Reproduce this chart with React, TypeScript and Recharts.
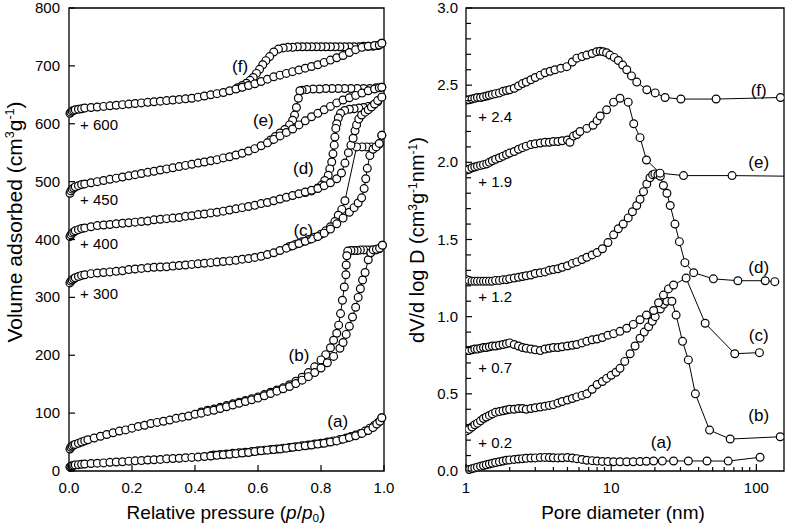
import React from 'react';
import { ScatterChart, Scatter, XAxis, YAxis, ReferenceArea, ReferenceDot } from 'recharts';

type Pt = [number, number];

// ─── N2 isotherms: [p/p0, V (cm3/g)] before the vertical shift ─────────────
const isoAdsA: Pt[] = [
  [0.003, 7], [0.006, 8], [0.01, 9], [0.015, 10], [0.02, 10.5], [0.03, 11], [0.04, 11.5], [0.05, 12],
  [0.07, 13], [0.09, 13.5], [0.11, 14], [0.13, 15], [0.15, 15.5], [0.17, 16], [0.19, 17], [0.21, 17.5],
  [0.23, 18], [0.25, 19], [0.27, 19.5], [0.29, 20], [0.31, 21], [0.33, 21.5], [0.35, 22], [0.37, 23],
  [0.39, 23.5], [0.41, 24], [0.43, 25], [0.45, 26], [0.47, 27], [0.49, 28], [0.51, 29], [0.53, 30],
  [0.55, 31], [0.57, 32], [0.59, 33.5], [0.61, 35], [0.63, 36], [0.65, 37], [0.67, 38], [0.69, 39.5],
  [0.71, 41], [0.73, 42], [0.75, 43.5], [0.77, 45], [0.79, 46.5], [0.81, 48], [0.83, 50], [0.85, 52],
  [0.87, 55], [0.89, 58], [0.91, 61], [0.93, 65], [0.95, 70], [0.965, 75], [0.977, 81], [0.987, 86], [0.993, 92],
];
const isoDesA: Pt[] = [
  [0.993, 92], [0.982, 84], [0.97, 79], [0.955, 74], [0.94, 69], [0.925, 65], [0.91, 62], [0.895, 59.5],
  [0.88, 57], [0.86, 54.5], [0.84, 52], [0.82, 50], [0.8, 48], [0.78, 46.5], [0.76, 45], [0.74, 43.5],
  [0.72, 42], [0.7, 40.5], [0.68, 39.5], [0.66, 38], [0.64, 37], [0.62, 36], [0.6, 35], [0.58, 33.5],
  [0.56, 32.5], [0.54, 31.5], [0.52, 30.5], [0.5, 29.5], [0.48, 28.5], [0.46, 27.5], [0.45, 26.5],
];
const isoAdsB: Pt[] = [
  [0.003, 38], [0.006, 41], [0.01, 43], [0.015, 45], [0.02, 46], [0.03, 48], [0.04, 50], [0.05, 52],
  [0.06, 54], [0.08, 57], [0.1, 60], [0.12, 63], [0.14, 66], [0.16, 69], [0.18, 71], [0.2, 74],
  [0.22, 77], [0.24, 79], [0.26, 82], [0.28, 84], [0.3, 86], [0.32, 88], [0.34, 91], [0.36, 93],
  [0.38, 95], [0.4, 98], [0.42, 100], [0.44, 103], [0.46, 105], [0.48, 108], [0.5, 111], [0.52, 114],
  [0.54, 117], [0.56, 120], [0.58, 123], [0.6, 126], [0.62, 130], [0.64, 134], [0.66, 138], [0.68, 142],
  [0.7, 146], [0.72, 151], [0.74, 157], [0.76, 163], [0.78, 170], [0.8, 178], [0.82, 187], [0.84, 198],
  [0.86, 212], [0.87, 222], [0.88, 236], [0.89, 250], [0.9, 266], [0.91, 283], [0.918, 300], [0.925, 315],
  [0.932, 330], [0.94, 343], [0.95, 365], [0.958, 377], [0.966, 382], [0.976, 383], [0.986, 385], [0.995, 390],
];
const isoDesB: Pt[] = [
  [0.995, 390], [0.985, 384], [0.975, 382], [0.965, 382], [0.955, 382], [0.945, 382], [0.935, 382],
  [0.925, 382], [0.915, 381], [0.905, 381], [0.895, 381], [0.885, 380], [0.882, 372], [0.88, 356],
  [0.879, 339], [0.874, 318], [0.868, 295], [0.862, 272], [0.856, 252], [0.85, 238], [0.84, 226],
  [0.83, 213], [0.815, 201], [0.8, 192], [0.78, 180], [0.76, 170], [0.74, 162], [0.72, 155], [0.7, 149],
  [0.68, 144], [0.66, 140], [0.64, 136], [0.62, 132], [0.6, 128], [0.58, 125], [0.56, 122], [0.54, 119],
  [0.52, 116], [0.5, 113], [0.48, 110], [0.46, 107], [0.44, 105], [0.42, 102],
];
const isoAdsC: Pt[] = [
  [0.003, 25], [0.006, 28], [0.01, 30], [0.015, 32], [0.02, 34], [0.03, 36], [0.04, 38], [0.05, 39],
  [0.07, 41], [0.09, 42], [0.11, 43], [0.13, 44], [0.15, 45], [0.17, 46], [0.19, 48], [0.21, 49],
  [0.23, 50], [0.25, 51], [0.27, 52], [0.29, 52.5], [0.31, 53], [0.33, 54], [0.35, 55], [0.37, 56],
  [0.39, 57], [0.41, 58], [0.43, 59], [0.45, 60], [0.47, 61], [0.49, 62], [0.51, 63], [0.53, 64],
  [0.55, 66], [0.57, 67], [0.59, 69], [0.61, 71], [0.63, 74], [0.65, 77], [0.67, 81], [0.69, 85],
  [0.71, 89], [0.73, 93], [0.75, 97], [0.77, 101], [0.79, 105], [0.81, 111], [0.83, 118], [0.85, 127],
  [0.87, 137], [0.89, 147], [0.905, 155], [0.918, 163], [0.929, 172], [0.937, 188], [0.942, 205],
  [0.947, 223], [0.955, 245], [0.965, 256], [0.975, 260], [0.985, 266], [0.993, 280],
];
const isoDesC: Pt[] = [
  [0.993, 280], [0.985, 265], [0.975, 260], [0.96, 260], [0.945, 260], [0.93, 260], [0.913, 260],
  [0.876, 167], [0.866, 152], [0.855, 142], [0.844, 131], [0.83, 122], [0.815, 115], [0.8, 109],
  [0.78, 104], [0.76, 100], [0.74, 96], [0.72, 92], [0.7, 88],
];
const isoAdsD: Pt[] = [
  [0.003, 5], [0.006, 8], [0.01, 11], [0.015, 13], [0.02, 15], [0.03, 17], [0.04, 19], [0.05, 20],
  [0.07, 22], [0.09, 24], [0.11, 25], [0.13, 26], [0.15, 27], [0.17, 28], [0.19, 29], [0.21, 30],
  [0.23, 31], [0.25, 32], [0.27, 34], [0.29, 35], [0.31, 36], [0.33, 37], [0.35, 38], [0.37, 40],
  [0.39, 41], [0.41, 43], [0.43, 44], [0.45, 46], [0.47, 47], [0.49, 49], [0.51, 51], [0.53, 53],
  [0.55, 55], [0.57, 57], [0.59, 59], [0.61, 62], [0.63, 64], [0.65, 67], [0.67, 70], [0.69, 73],
  [0.71, 76], [0.73, 79], [0.75, 82], [0.77, 85], [0.79, 88], [0.81, 93], [0.83, 98], [0.85, 105],
  [0.865, 115], [0.876, 132], [0.887, 150], [0.895, 163], [0.902, 175], [0.908, 188], [0.913, 198],
  [0.92, 208], [0.929, 215], [0.94, 220], [0.95, 224], [0.96, 229], [0.97, 234], [0.98, 240], [0.993, 246],
];
const isoDesD: Pt[] = [
  [0.993, 246], [0.98, 238], [0.965, 232], [0.95, 230], [0.935, 228], [0.92, 227], [0.905, 226],
  [0.89, 225], [0.875, 223], [0.862, 218], [0.855, 210], [0.85, 200], [0.847, 192], [0.844, 177],
  [0.842, 163], [0.838, 148], [0.834, 134], [0.828, 122], [0.823, 111], [0.812, 102], [0.802, 94],
  [0.79, 89], [0.77, 84], [0.75, 81],
];
const isoAdsE: Pt[] = [
  [0.003, 30], [0.006, 34], [0.01, 37], [0.015, 39], [0.02, 41], [0.03, 43], [0.04, 45], [0.05, 46],
  [0.07, 48], [0.09, 50], [0.11, 52], [0.13, 54], [0.15, 56], [0.17, 58], [0.19, 60], [0.21, 62],
  [0.23, 64], [0.25, 66], [0.27, 68], [0.29, 70], [0.31, 72], [0.33, 74], [0.35, 76], [0.37, 78],
  [0.39, 80], [0.41, 82], [0.43, 84], [0.45, 86], [0.47, 88], [0.49, 91], [0.51, 93], [0.53, 96],
  [0.55, 99], [0.57, 103], [0.59, 107], [0.61, 112], [0.63, 117], [0.65, 123], [0.67, 129], [0.69, 135],
  [0.71, 141], [0.73, 148], [0.75, 155], [0.77, 162], [0.79, 168], [0.81, 174], [0.83, 180], [0.85, 186],
  [0.87, 191], [0.89, 195], [0.91, 199], [0.93, 203], [0.95, 207], [0.97, 210], [0.985, 212], [0.993, 213],
];
const isoDesE: Pt[] = [
  [0.993, 213], [0.975, 212], [0.955, 211], [0.935, 211], [0.915, 211], [0.895, 211], [0.875, 211],
  [0.855, 211], [0.835, 211], [0.815, 211], [0.795, 210], [0.775, 210], [0.755, 209], [0.74, 208],
  [0.733, 207], [0.728, 194], [0.722, 178], [0.716, 165], [0.71, 156], [0.7, 148], [0.685, 140],
  [0.67, 134], [0.655, 128], [0.64, 122],
];
const isoAdsF: Pt[] = [
  [0.003, 18], [0.006, 20], [0.01, 22], [0.015, 23], [0.02, 24], [0.03, 25], [0.04, 26], [0.05, 27],
  [0.07, 28], [0.09, 29], [0.11, 30], [0.13, 31], [0.15, 32], [0.17, 33], [0.19, 34], [0.21, 35],
  [0.23, 36], [0.25, 37], [0.27, 38], [0.29, 39], [0.31, 40], [0.33, 41], [0.35, 42], [0.37, 43],
  [0.39, 44], [0.41, 46], [0.43, 48], [0.45, 50], [0.47, 52], [0.49, 54], [0.51, 57], [0.53, 60],
  [0.55, 63], [0.57, 66], [0.59, 69], [0.61, 73], [0.63, 77], [0.65, 81], [0.67, 84], [0.69, 87],
  [0.71, 90], [0.73, 93], [0.75, 96], [0.77, 99], [0.79, 102], [0.81, 106], [0.83, 110], [0.85, 114],
  [0.87, 118], [0.89, 123], [0.91, 128], [0.93, 132], [0.95, 134], [0.97, 135], [0.985, 136], [0.993, 139],
];
const isoDesF: Pt[] = [
  [0.993, 139], [0.98, 135], [0.965, 134], [0.95, 134], [0.935, 134], [0.92, 133], [0.905, 133],
  [0.89, 133], [0.875, 133], [0.86, 133], [0.845, 133], [0.83, 133], [0.815, 133], [0.8, 133],
  [0.785, 133], [0.77, 133], [0.755, 133], [0.74, 133], [0.725, 133], [0.71, 132], [0.695, 132],
  [0.68, 131], [0.665, 129], [0.65, 124], [0.637, 116], [0.625, 109], [0.615, 102], [0.605, 94],
  [0.595, 87], [0.585, 80], [0.575, 75], [0.563, 70], [0.55, 66], [0.535, 62],
];
const isoShift = [0, 0, 300, 400, 450, 600];

// ─── Pore size distributions: [D (nm), dV/dlogD] before the shift ─────────
const psdA: Pt[] = [
  [1.05, 0.01], [1.1, 0.015], [1.15, 0.02], [1.2, 0.025], [1.26, 0.03], [1.32, 0.035], [1.38, 0.04],
  [1.45, 0.045], [1.52, 0.05], [1.6, 0.055], [1.7, 0.06], [1.8, 0.065], [1.9, 0.07], [2.0, 0.072],
  [2.15, 0.075], [2.3, 0.078], [2.45, 0.08], [2.6, 0.082], [2.8, 0.084], [3.0, 0.085], [3.25, 0.087],
  [3.5, 0.088], [3.75, 0.087], [4.0, 0.086], [4.3, 0.085], [4.6, 0.086], [5.0, 0.087], [5.4, 0.084],
  [5.8, 0.08], [6.3, 0.075], [6.8, 0.07], [7.4, 0.067], [8.0, 0.064], [8.7, 0.062], [9.5, 0.061],
  [10.4, 0.06], [11.5, 0.06], [12.8, 0.06], [14.2, 0.06], [15.8, 0.061], [17.5, 0.063], [19.6, 0.065],
  [22.5, 0.064], [26.9, 0.065], [34, 0.065], [45.7, 0.065], [64, 0.064], [106, 0.089],
];
const psdB: Pt[] = [
  [1.01, 0.06], [1.05, 0.07], [1.1, 0.085], [1.15, 0.1], [1.2, 0.11], [1.26, 0.125], [1.32, 0.14],
  [1.38, 0.15], [1.45, 0.16], [1.52, 0.17], [1.6, 0.18], [1.7, 0.185], [1.8, 0.19], [1.9, 0.195],
  [2.0, 0.2], [2.15, 0.2], [2.3, 0.205], [2.45, 0.205], [2.6, 0.2], [2.8, 0.205], [3.0, 0.21],
  [3.25, 0.215], [3.5, 0.22], [3.75, 0.225], [4.0, 0.23], [4.3, 0.24], [4.6, 0.25], [5.0, 0.26],
  [5.4, 0.27], [5.8, 0.28], [6.3, 0.29], [6.8, 0.3], [7.4, 0.33], [8.0, 0.36], [8.7, 0.38], [9.3, 0.4],
  [10.0, 0.42], [10.8, 0.44], [11.5, 0.465], [12.4, 0.51], [13.5, 0.56], [14.6, 0.61], [15.8, 0.66],
  [16.9, 0.7], [18.1, 0.735], [19.2, 0.77], [20.1, 0.8], [21.8, 0.85], [23.0, 0.88], [24.2, 0.9],
  [26.2, 0.9], [28, 0.81], [31, 0.64], [34, 0.52], [38, 0.3], [47.6, 0.065], [66, 0.007], [146, 0.022],
];
const psdC: Pt[] = [
  [1.01, 0.08], [1.05, 0.08], [1.1, 0.085], [1.15, 0.09], [1.2, 0.09], [1.26, 0.095], [1.32, 0.1],
  [1.38, 0.1], [1.45, 0.105], [1.52, 0.11], [1.6, 0.11], [1.7, 0.115], [1.8, 0.12], [1.9, 0.125],
  [2.0, 0.13], [2.15, 0.12], [2.3, 0.11], [2.45, 0.1], [2.6, 0.095], [2.8, 0.09], [3.0, 0.085],
  [3.25, 0.08], [3.5, 0.09], [3.75, 0.095], [4.0, 0.1], [4.3, 0.1], [4.6, 0.105], [5.0, 0.11],
  [5.4, 0.115], [5.8, 0.12], [6.3, 0.13], [6.8, 0.14], [7.4, 0.15], [8.0, 0.155], [8.7, 0.165],
  [9.5, 0.18], [10.4, 0.19], [11.5, 0.205], [12.8, 0.225], [14.2, 0.25], [15.8, 0.28], [17.5, 0.31],
  [19.6, 0.34], [21.2, 0.39], [22.9, 0.44], [24.8, 0.48], [26.9, 0.505], [32.8, 0.55], [44.4, 0.257],
  [71, 0.06], [105, 0.067],
];
const psdD: Pt[] = [
  [1.01, 0.04], [1.05, 0.035], [1.1, 0.03], [1.15, 0.03], [1.2, 0.03], [1.26, 0.03], [1.32, 0.03],
  [1.38, 0.03], [1.45, 0.03], [1.52, 0.03], [1.6, 0.035], [1.7, 0.035], [1.8, 0.04], [1.9, 0.04],
  [2.0, 0.045], [2.15, 0.05], [2.3, 0.055], [2.45, 0.06], [2.6, 0.065], [2.8, 0.07], [3.0, 0.08],
  [3.25, 0.085], [3.5, 0.09], [3.75, 0.1], [4.0, 0.105], [4.3, 0.11], [4.6, 0.12], [5.0, 0.13],
  [5.4, 0.145], [5.8, 0.155], [6.3, 0.17], [6.8, 0.185], [7.4, 0.2], [8.0, 0.215], [8.7, 0.24],
  [9.5, 0.28], [10.4, 0.33], [11.2, 0.37], [12.1, 0.4], [13.1, 0.44], [14.0, 0.48], [15.0, 0.52],
  [15.8, 0.56], [16.7, 0.61], [17.6, 0.66], [18.5, 0.7], [19.3, 0.72], [20.0, 0.725], [21.0, 0.72],
  [21.8, 0.71], [22.9, 0.65], [24.2, 0.6], [25.5, 0.52], [27.5, 0.4], [29.5, 0.286], [32.2, 0.15],
  [37, 0.085], [50.6, 0.045], [74.6, 0.033], [115, 0.033], [134, 0.027],
];
const psdE: Pt[] = [
  [1.01, 0.05], [1.05, 0.055], [1.1, 0.065], [1.15, 0.07], [1.2, 0.075], [1.26, 0.08], [1.32, 0.085],
  [1.39, 0.09], [1.45, 0.1], [1.52, 0.11], [1.6, 0.12], [1.7, 0.13], [1.8, 0.14], [1.9, 0.15],
  [2.0, 0.16], [2.15, 0.17], [2.3, 0.185], [2.45, 0.195], [2.6, 0.205], [2.8, 0.215], [3.0, 0.22],
  [3.25, 0.225], [3.5, 0.23], [3.75, 0.23], [4.0, 0.235], [4.3, 0.235], [4.6, 0.24], [5.0, 0.245],
  [5.2, 0.23], [5.5, 0.27], [5.8, 0.28], [6.1, 0.3], [6.8, 0.32], [7.5, 0.34], [8.0, 0.37], [8.4, 0.4],
  [9.3, 0.44], [10.4, 0.49], [11.5, 0.515], [13.1, 0.49], [14.3, 0.35], [15.8, 0.26], [17.5, 0.115],
  [21.7, 0.03], [31.5, 0.014], [68, 0.014], [170, 0.01],
];
const psdF: Pt[] = [
  [1.01, 0.004], [1.05, 0.005], [1.1, 0.01], [1.15, 0.015], [1.2, 0.02], [1.26, 0.02], [1.32, 0.025],
  [1.39, 0.03], [1.45, 0.035], [1.52, 0.04], [1.6, 0.045], [1.7, 0.05], [1.8, 0.06], [1.9, 0.065],
  [2.0, 0.07], [2.15, 0.08], [2.3, 0.095], [2.45, 0.11], [2.6, 0.12], [2.8, 0.135], [3.0, 0.15],
  [3.25, 0.165], [3.5, 0.18], [3.8, 0.19], [4.1, 0.2], [4.5, 0.21], [4.95, 0.22], [5.4, 0.25],
  [5.8, 0.275], [6.3, 0.285], [6.8, 0.295], [7.4, 0.305], [7.95, 0.317], [8.4, 0.32], [8.8, 0.317],
  [9.3, 0.31], [9.8, 0.295], [10.5, 0.28], [11.2, 0.26], [12, 0.23], [12.8, 0.2], [13.8, 0.16],
  [15, 0.12], [17.6, 0.07], [20.1, 0.05], [23.5, 0.02], [30.2, 0.01], [52.8, 0.01], [146.6, 0.02],
];
const psdShift = [0, 0.2, 0.7, 1.2, 1.9, 2.4];

const sampleNames = ['(a)', '(b)', '(c)', '(d)', '(e)', '(f)'];

// ─── Axis ticks ──────────────────────────────────────────────────────────
const isoXTicks = [0, 0.2, 0.4, 0.6, 0.8, 1];
const isoYTicks = [0, 100, 200, 300, 400, 500, 600, 700, 800];
const psdXTicks = [1, 2, 3, 4, 5, 6, 7, 8, 9, 10, 20, 30, 40, 50, 60, 70, 80, 90, 100];
const psdXLabels = [1, 10, 100];
const psdYTicks = [
  0, 0.1, 0.2, 0.3, 0.4, 0.5, 0.6, 0.7, 0.8, 0.9, 1, 1.1, 1.2, 1.3, 1.4, 1.5,
  1.6, 1.7, 1.8, 1.9, 2, 2.1, 2.2, 2.3, 2.4, 2.5, 2.6, 2.7, 2.8, 2.9, 3,
];
const psdYLabels = [0, 0.5, 1, 1.5, 2, 2.5, 3];

// ─── Label positions (data coordinates) ──────────────────────────────────
const isoNamePos: Pt[] = [[0.853, 86], [0.73, 201], [0.744, 416], [0.744, 523], [0.617, 606], [0.543, 699]];
const isoShiftPos: Pt[] = [[0.035, 307], [0.035, 393], [0.035, 469], [0.035, 598]];
const isoShiftText = ['+ 300', '+ 400', '+ 450', '+ 600'];
const psdNamePos: Pt[] = [[22.1, 0.19], [103.7, 0.363], [103.7, 0.881], [103.7, 1.324], [103.7, 2.005], [103.7, 2.469]];
const psdShiftPos: Pt[] = [[1.216, 0.183], [1.216, 0.672], [1.216, 1.13], [1.216, 1.875], [1.216, 2.296]];
const psdShiftText = ['+ 0.2', '+ 0.7', '+ 1.2', '+ 1.9', '+ 2.4'];

const isoSets = [
  { ads: isoAdsA, des: isoDesA }, { ads: isoAdsB, des: isoDesB }, { ads: isoAdsC, des: isoDesC },
  { ads: isoAdsD, des: isoDesD }, { ads: isoAdsE, des: isoDesE }, { ads: isoAdsF, des: isoDesF },
];
const psdSets = [psdA, psdB, psdC, psdD, psdE, psdF];

const FONT = '"Liberation Sans", Arial, Helvetica, sans-serif';
const TICK_FONT = 15;
const LABEL_FONT = 17;
const SHIFT_FONT = 15;
const AXIS_W = 40;
const AXIS_H = 30;

const shifted = (arr: Pt[], s: number) => arr.map(([x, y]) => ({ x, y: y + s }));

const Ring = (props: any) => {
  const { cx, cy } = props;
  if (cx == null || cy == null) return <g />;
  return <circle cx={cx} cy={cy} r={3.9} fill="#fff" stroke="#000" strokeWidth={1.2} />;
};

// ticks drawn inward, labels outside
const bottomTick = (labelled: number[] | null, fmt: (v: number) => string, major: number, minor: number) =>
  (props: any) => {
    const { x, y, payload } = props;
    const v = payload.value;
    const has = labelled ? labelled.includes(v) : true;
    return (
      <g>
        <line x1={x} x2={x} y1={y} y2={y - (has ? major : minor)} stroke="#000" strokeWidth={1.2} />
        {has && (
          <text x={x} y={y + 22} textAnchor="middle" fontSize={TICK_FONT} fill="#000">{fmt(v)}</text>
        )}
      </g>
    );
  };

const leftTick = (labelled: number[] | null, fmt: (v: number) => string, major: number, minor: number, gap: number) =>
  (props: any) => {
    const { x, y, payload } = props;
    const v = payload.value;
    const has = labelled ? labelled.includes(v) : true;
    return (
      <g>
        <line x1={x} x2={x + (has ? major : minor)} y1={y} y2={y} stroke="#000" strokeWidth={1.2} />
        {has && (
          <text x={x - gap} y={y + 5} textAnchor="end" fontSize={TICK_FONT} fill="#000">{fmt(v)}</text>
        )}
      </g>
    );
  };

const labelStyle = (size: number) => ({ fontSize: size, fill: '#000', fontFamily: FONT });

const IsothermPanel = () => (
  <ScatterChart width={400} height={529} margin={{ top: 8, right: 16, bottom: 58 - AXIS_H, left: 69 - AXIS_W }}>
    <XAxis
      type="number" dataKey="x" domain={[0, 1]} ticks={isoXTicks} interval={0}
      height={AXIS_H} tickSize={0} tickMargin={0} axisLine={false}
      tick={bottomTick(null, (v) => v.toFixed(1), 6, 6)}
    />
    <YAxis
      type="number" dataKey="y" domain={[0, 800]} ticks={isoYTicks} interval={0}
      width={AXIS_W} tickSize={0} tickMargin={0} axisLine={false}
      tick={leftTick(null, (v) => String(v), 6, 6, 9)}
    />
    <ReferenceArea x1={0} x2={1} y1={0} y2={800} fill="none" fillOpacity={0} stroke="#000" strokeWidth={1.3} />
    {isoSets.map((s, i) => [
      <Scatter
        key={`des${i}`} data={shifted(s.des, isoShift[i])} line={{ stroke: '#000', strokeWidth: 1 }}
        lineType="joint" shape={Ring} isAnimationActive={false}
      />,
      <Scatter
        key={`ads${i}`} data={shifted(s.ads, isoShift[i])} line={{ stroke: '#000', strokeWidth: 1 }}
        lineType="joint" shape={Ring} isAnimationActive={false}
      />,
    ])}
    {isoNamePos.map(([x, y], i) => (
      <ReferenceDot key={`in${i}`} x={x} y={y} r={0} fill="none" stroke="none"
        label={{ value: sampleNames[i], position: 'center', ...labelStyle(LABEL_FONT) }} />
    ))}
    {isoShiftPos.map(([x, y], i) => (
      <ReferenceDot key={`is${i}`} x={x} y={y} r={0} fill="none" stroke="none"
        label={{ value: isoShiftText[i], position: 'right', offset: 0, ...labelStyle(SHIFT_FONT) }} />
    ))}
  </ScatterChart>
);

const PsdPanel = () => (
  <ScatterChart width={387} height={529} margin={{ top: 8, right: 3, bottom: 58 - AXIS_H, left: 66 - AXIS_W }}>
    <XAxis
      type="number" dataKey="x" scale="log" domain={[1, 155]} allowDataOverflow ticks={psdXTicks} interval={0}
      height={AXIS_H} tickSize={0} tickMargin={0} axisLine={false}
      tick={bottomTick(psdXLabels, (v) => String(v), 7, 4)}
    />
    <YAxis
      type="number" dataKey="y" domain={[0, 3]} ticks={psdYTicks} interval={0}
      width={AXIS_W} tickSize={0} tickMargin={0} axisLine={false}
      tick={leftTick(psdYLabels, (v) => v.toFixed(1), 6, 5, 8)}
    />
    <ReferenceArea x1={1} x2={155} y1={0} y2={3} fill="none" fillOpacity={0} stroke="#000" strokeWidth={1.3} />
    {psdSets.map((s, i) => (
      <Scatter
        key={`psd${i}`} data={shifted(s, psdShift[i])} line={{ stroke: '#000', strokeWidth: 1 }}
        lineType="joint" shape={Ring} isAnimationActive={false}
      />
    ))}
    {psdNamePos.map(([x, y], i) => (
      <ReferenceDot key={`pn${i}`} x={x} y={y} r={0} fill="none" stroke="none"
        label={{ value: sampleNames[i], position: 'center', ...labelStyle(LABEL_FONT) }} />
    ))}
    {psdShiftPos.map(([x, y], i) => (
      <ReferenceDot key={`ps${i}`} x={x} y={y} r={0} fill="none" stroke="none"
        label={{ value: psdShiftText[i], position: 'right', offset: 0, ...labelStyle(SHIFT_FONT) }} />
    ))}
  </ScatterChart>
);

const titleBase: React.CSSProperties = {
  position: 'absolute', lineHeight: '24px', height: 24, textAlign: 'center',
  color: '#000', whiteSpace: 'nowrap',
};
const supStyle: React.CSSProperties = { fontSize: '0.6em', verticalAlign: '0.6em', lineHeight: 0 };
const subStyle: React.CSSProperties = { fontSize: '0.62em', verticalAlign: '-0.25em', lineHeight: 0 };

export default function App() {
  return (
    <div style={{ position: 'absolute', left: 0, top: 0, width: 787, height: 529, background: '#fff', fontFamily: FONT }}>
      <div style={{ position: 'absolute', left: 0, top: 0 }}>
        <IsothermPanel />
      </div>
      <div style={{ position: 'absolute', left: 400, top: 0 }}>
        <PsdPanel />
      </div>
      <div style={{ ...titleBase, fontSize: 21, left: 15 - 250, top: 222 - 12, width: 500, transform: 'rotate(-90deg)' }}>
        Volume adsorbed (cm<span style={supStyle}>3</span>g<span style={supStyle}>-1</span>)
      </div>
      <div style={{ ...titleBase, fontSize: 19, left: 226 - 150, top: 501, width: 300 }}>
        Relative pressure (<i>p</i>/<i>p</i><span style={subStyle}>0</span>)
      </div>
      <div style={{ ...titleBase, fontSize: 20, left: 417 - 250, top: 240 - 12, width: 500, transform: 'rotate(-90deg)' }}>
        dV/d log D (cm<span style={supStyle}>3</span>g<span style={supStyle}>-1</span>nm<span style={supStyle}>-1</span>)
      </div>
      <div style={{ ...titleBase, fontSize: 19, left: 623 - 150, top: 501, width: 300 }}>
        Pore diameter (nm)
      </div>
    </div>
  );
}
